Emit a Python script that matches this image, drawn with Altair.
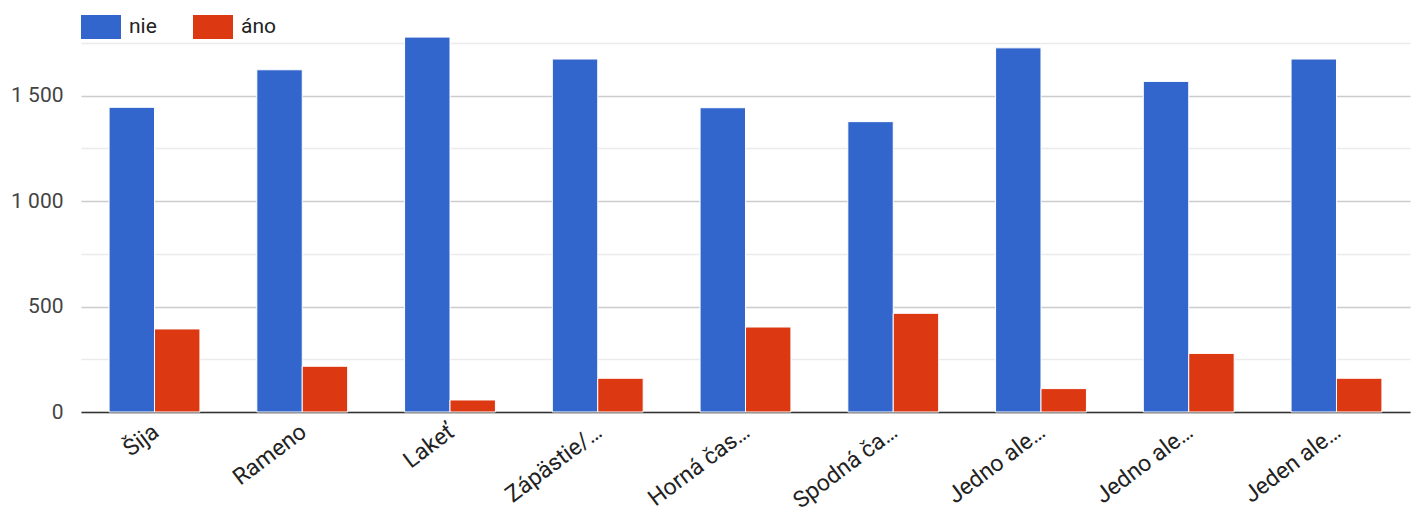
import json
import altair as alt
import pandas as pd

labels = ["Šija", "Rameno", "Lakeť", "Zápästie/…", "Horná čas…", "Spodná ča…",
          "Jedno ale…", "Jedno ale…", "Jeden ale…"]
nie = [1445, 1623, 1778, 1674, 1443, 1377, 1727, 1568, 1674]
ano = [394, 217, 57, 160, 403, 468, 111, 278, 160]
series = ["nie", "áno"]
colors = ["#3366CC", "#DC3912"]

rows = []
for i in range(len(labels)):
    rows.append({"idx": i, "series": "nie", "s": 0, "value": nie[i]})
    rows.append({"idx": i, "series": "áno", "s": 1, "value": ano[i]})
df = pd.DataFrame(rows)

label_expr = json.dumps(labels, ensure_ascii=False) + "[datum.value]"
FONT = "Roboto"

chart = alt.Chart(df).mark_bar(stroke="white", strokeWidth=1).encode(
    x=alt.X("idx:O", title=None,
            scale=alt.Scale(paddingInner=0.385, paddingOuter=0.19),
            axis=alt.Axis(labelExpr=label_expr, labelAngle=-37, labelAlign="right",
                          labelBaseline="top", labelFontSize=23, labelColor="#222222",
                          labelFont=FONT, ticks=False, domainColor="#333333",
                          domainWidth=1.5, labelPadding=8, labelOffset=-5, grid=False)),
    xOffset=alt.XOffset("series:N", sort=series, scale=alt.Scale(paddingInner=0.0)),
    y=alt.Y("value:Q", title=None,
            scale=alt.Scale(domain=[0, 1750], nice=False),
            axis=alt.Axis(values=list(range(0, 1751, 250)),
                          labelExpr="datum.value % 500 === 0 ? replace(format(datum.value, ',d'), ',', ' ') : ''",
                          gridColor={"condition": {"test": "datum.value % 500 === 0", "value": "#cccccc"},
                                     "value": "#ebebeb"},
                          gridWidth=1.5, ticks=False, domain=False, labelFontSize=21,
                          labelColor="#444444", labelFont=FONT, labelPadding=18)),
    color=alt.Color("series:N", sort=series,
                    scale=alt.Scale(domain=series, range=colors),
                    legend=alt.Legend(title=None, orient="none", legendX=0, legendY=-36,
                                      direction="horizontal",
                                      symbolType="M-1,-0.6H1V0.6H-1Z", symbolSize=1600,
                                      symbolStrokeWidth=0, symbolOpacity=1,
                                      labelFontSize=21, labelFont=FONT, labelColor="#222222",
                                      labelOffset=8, columnPadding=36)),
).properties(
    width=1329, height=369,
    autosize=alt.AutoSizeParams(type="none"),
    padding={"left": 73, "top": 35, "right": 6, "bottom": 104},
).configure_view(stroke=None)

chart.save("out.html", embed_options={"renderer": "svg", "actions": False})
